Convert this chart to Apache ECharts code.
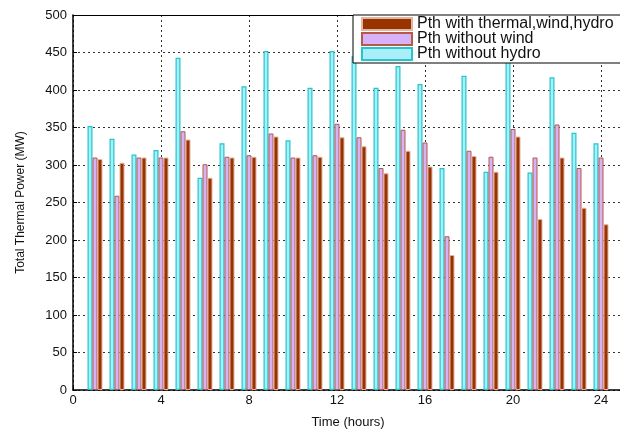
<!DOCTYPE html>
<html>
<head>
<meta charset="utf-8">
<script src="https://cdn.jsdelivr.net/npm/echarts@6/dist/echarts.min.js"></script>
<style>
  html, body { margin: 0; padding: 0; background: #fff; }
  #chart { width: 620px; height: 430px; }
</style>
</head>
<body>
<div id="chart"></div>
<script>
const hours = [1, 2, 3, 4, 5, 6, 7, 8, 9, 10, 11, 12, 13, 14, 15, 16, 17, 18, 19, 20, 21, 22, 23, 24];
const withoutHydro = [352, 335, 314, 320, 443, 283, 329, 405, 452, 333, 403, 452, 445, 403, 432, 408, 296, 419, 291, 450, 290, 417, 343, 329];
const withoutWind = [310, 259, 310, 310, 345, 301, 311, 313, 342, 310, 313, 355, 337, 296, 347, 330, 205, 319, 311, 348, 310, 354, 296, 310];
const withAll = [308, 303, 310, 310, 334, 283, 310, 311, 338, 310, 311, 337, 325, 289, 319, 298, 180, 312, 291, 338, 228, 310, 243, 221];

const yTicks = { min: 0, max: 500, step: 50 };
const xTicks = { min: 0, max: 25, step: 4 };

const font = 'Liberation Sans, Arial, sans-serif';

function pairs(vals) {
  return hours.map((h, i) => [h, vals[i]]);
}

const chart = echarts.init(document.getElementById('chart'));

const gridLine = { show: true, lineStyle: { color: '#333', type: [2, 3], width: 1 } };

chart.setOption({
  animation: false,
  backgroundColor: '#fff',
  textStyle: { fontFamily: font },
  grid: {
    left: 73, top: 15, width: 550, height: 375,
    containLabel: false,
    outerBoundsMode: 'none'
  },
  legend: {
    orient: 'vertical',
    left: 353, top: 15,
    data: ['Pth with thermal,wind,hydro', 'Pth without wind', 'Pth without hydro'],
    itemWidth: 50, itemHeight: 12, itemGap: -1,
    padding: [1, 90, 1, 8],
    backgroundColor: '#fff',
    borderColor: '#000', borderWidth: 1, borderRadius: 0,
    icon: 'rect',
    textStyle: { fontFamily: font, fontSize: 16, color: '#111' }
  },
  xAxis: [
    {
      type: 'value',
      min: xTicks.min, max: xTicks.max, interval: xTicks.step,
      name: 'Time (hours)', nameLocation: 'middle', nameGap: 26,
      nameTextStyle: { fontFamily: font, fontSize: 13, color: '#111' },
      axisLine: { lineStyle: { color: '#000', width: 1.5 } },
      axisTick: { inside: true, length: 4, lineStyle: { color: '#000' } },
      axisLabel: {
        fontFamily: font, fontSize: 13, color: '#111', margin: 4,
        formatter: v => (v % 4 === 0 ? String(v) : '')
      },
      splitLine: gridLine
    },
    {
      type: 'value',
      position: 'top',
      min: xTicks.min, max: xTicks.max, interval: xTicks.step,
      axisLine: { show: true, onZero: false, lineStyle: { color: '#000', width: 1 } },
      axisTick: { show: false },
      axisLabel: { show: false },
      splitLine: { show: false }
    }
  ],
  yAxis: {
    type: 'value',
    min: yTicks.min, max: yTicks.max, interval: yTicks.step,
    name: 'Total Thermal Power (MW)', nameLocation: 'middle', nameGap: 46,
    nameTextStyle: { fontFamily: font, fontSize: 12, color: '#111' },
    axisLine: { show: true, lineStyle: { color: '#000', width: 1.5 } },
    axisTick: { show: true, inside: true, length: 4, lineStyle: { color: '#000' } },
    axisLabel: { fontFamily: font, fontSize: 13, color: '#111', margin: 6 },
    splitLine: gridLine
  },
  series: [
    {
      name: 'Pth without hydro',
      type: 'bar',
      data: pairs(withoutHydro),
      barWidth: 5, barGap: '0%',
      itemStyle: { color: '#aaeefa', borderColor: '#22c6cc', borderWidth: 1.2 }
    },
    {
      name: 'Pth without wind',
      type: 'bar',
      data: pairs(withoutWind),
      barWidth: 5, barGap: '0%',
      itemStyle: { color: '#d8b2f8', borderColor: '#b45a48', borderWidth: 1 }
    },
    {
      name: 'Pth with thermal,wind,hydro',
      type: 'bar',
      data: pairs(withAll),
      barWidth: 5, barGap: '0%',
      itemStyle: { color: '#993300', borderColor: '#e2b4a2', borderWidth: 1 }
    }
  ]
});
</script>
</body>
</html>
